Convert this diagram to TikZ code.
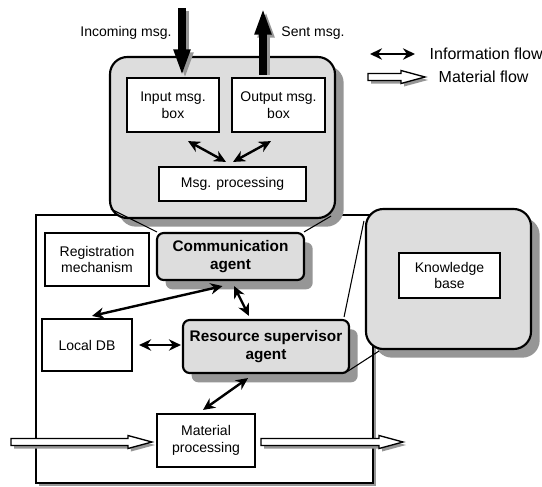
\documentclass[tikz,border=0pt]{standalone}
\usepackage{fontspec}
\setmainfont{Liberation Sans}
\usetikzlibrary{arrows.meta,shadows,calc}
\definecolor{boxgray}{RGB}{221,221,221}
\definecolor{shadowgray}{RGB}{150,150,150}
\tikzset{
	plainbox/.style={draw, line width=1.6pt, fill=white, align=center, inner sep=1pt,
			font=\fontsize{10.5}{12.5}\selectfont},
	agentbox/.style={draw, line width=1.6pt, fill=boxgray, rounded corners=5pt, align=center,
			inner sep=1pt, font=\fontsize{11.5}{13.5}\selectfont\bfseries,
			drop shadow={shadow xshift=6.5pt, shadow yshift=-7pt, fill=shadowgray, opacity=1}},
	groupbox/.style={draw, line width=1.6pt, fill=boxgray, rounded corners=13pt,
			drop shadow={shadow xshift=6.5pt, shadow yshift=-6.5pt, fill=shadowgray, opacity=1}},
	infoflow/.style={line width=1.8pt, {Stealth[length=9pt,width=8.5pt]}-{Stealth[length=9pt,width=8.5pt]}},
	msgflow/.style={line width=6pt, -{Triangle[length=20pt,width=11.5pt]}},
	callout/.style={line width=0.8pt},
	textlabel/.style={font=\fontsize{10.5}{12.5}\selectfont},
	legendtext/.style={font=\fontsize{12}{14}\selectfont, anchor=west}
}
% white material arrow with its shadow, from #1 to #2 (horizontal)
\newcommand{\matflow}[2]{%
	\fill[shadowgray] ($(#1)+(3,-0.5)$) -- ($(#2)+(-21,-0.5)$) -- ($(#2)+(-21,-3.5)$) -- ($(#2)+(3,3)$)
		-- ($(#2)+(-21,9.5)$) -- ($(#2)+(-21,6.5)$) -- ($(#1)+(3,6.5)$) -- cycle;
	\draw[fill=white, line width=1pt] ($(#1)+(0,-3.5)$) -- ($(#2)+(-24,-3.5)$) -- ($(#2)+(-24,-6.5)$) -- (#2)
		-- ($(#2)+(-24,6.5)$) -- ($(#2)+(-24,3.5)$) -- ($(#1)+(0,3.5)$) -- cycle;
}
\begin{document}
\begin{tikzpicture}[x=0.75pt, y=-0.75pt]
	\useasboundingbox (0,0) rectangle (542,486);

	% resource station
	\node[draw, line width=2pt, fill=white, minimum width=252.75pt, minimum height=201pt,
		drop shadow={shadow xshift=2.25pt, shadow yshift=-2.25pt, fill=shadowgray, opacity=1}]
		(station) at (204.5,349) {};

	\node[plainbox, minimum width=78pt, minimum height=39.75pt] (regmech) at (97,259.5) {Registration\\mechanism};
	\node[plainbox, minimum width=67.5pt, minimum height=39pt] (localdb) at (87,345) {Local DB};
	\node[plainbox, minimum width=73.5pt, minimum height=39.75pt] (matproc) at (206,440.5) {Material\\processing};

	\node[agentbox, minimum width=110.25pt, minimum height=35.25pt] (comm) at (230.5,256.5) {Communication\\agent};
	\node[agentbox, minimum width=124.5pt, minimum height=39.75pt] (rsa) at (266,346.5) {Resource supervisor\\agent};

	% message handling
	\node[groupbox, minimum width=168.75pt, minimum height=120.75pt] (msgbox) at (222.5,137.5) {};
	\node[plainbox, minimum width=69pt, minimum height=40.5pt] (inbox) at (173,105) {Input msg.\\box};
	\node[plainbox, minimum width=69.75pt, minimum height=40.5pt] (outbox) at (278.5,105) {Output msg.\\box};
	\node[plainbox, minimum width=110.25pt, minimum height=25.5pt] (msgproc) at (232.5,184) {Msg. processing};

	% knowledge
	\node[groupbox, minimum width=123.75pt, minimum height=105pt] (kbouter) at (448.5,279) {};
	\node[plainbox, minimum width=75.75pt, minimum height=33.75pt] (kb) at (449.5,275.5) {Knowledge\\base};

	% messages in and out
	\coordinate (incoming) at (182,8);
	\coordinate (sent) at (263,8);
	\draw[msgflow, shadowgray] ($(incoming)+(3,3)$) -- ($(inbox.north)+(12,2)$);
	\draw[msgflow] (incoming) -- ($(inbox.north)+(9,-1)$);
	\draw[msgflow, shadowgray] ($(outbox.north)+(-12.5,-2)$) -- ($(sent)+(3,3)$);
	\draw[msgflow] ($(outbox.north)+(-15.5,-2)$) -- (sent);
	\node[textlabel] (inlabel) at (126,33) {Incoming msg.};
	\node[textlabel] (sentlabel) at (313,33) {Sent msg.};

	% information flow
	\draw[infoflow] ($(inbox.south)+(15,8)$) -- ($(msgproc.north)+(-6.5,-4)$);
	\draw[infoflow] ($(outbox.south)+(-7.5,8)$) -- ($(msgproc.north)+(0.5,-4)$);
	\draw[infoflow] ($(comm.south)+(-8,5)$) -- ($(localdb.north)+(5,-2)$);
	\draw[infoflow] ($(comm.south)+(3.5,5)$) -- ($(rsa.north)+(-17,-3)$);
	\draw[infoflow] ($(localdb.east)+(6,0)$) -- ($(localdb.east -| rsa.west)+(-1,0)$);
	\draw[infoflow] ($(rsa.south)+(-18,4)$) -- ($(matproc.north)+(-3,-3)$);

	% zoom lines
	\draw[callout] ($(msgbox.south west)+(2,-10)$) -- ($(comm.north west)+(1,0)$);
	\draw[callout] ($(msgbox.south east)+(-5,-3)$) -- ($(comm.north east)+(-1,0)$);
	\draw[callout] ($(rsa.north east)+(-6,-2)$) -- ($(kbouter.north west)+(-1,13)$);
	\draw[callout] ($(rsa.south east)+(-2,-3)$) -- ($(kbouter.south west)+(14,1)$);

	% material flow
	\coordinate (matin) at (11,442);
	\coordinate (matout) at (403,442);
	\coordinate (matinend) at ($(matin -| matproc.west)+(-4,0)$);
	\coordinate (matoutstart) at ($(matout -| matproc.east)+(5,0)$);
	\matflow{matin}{matinend}
	\matflow{matoutstart}{matout}

	% legend
	\coordinate (infoa) at (370,54);
	\coordinate (infob) at (415,54);
	\draw[infoflow] (infoa) -- (infob);
	\node[legendtext] (infotext) at (425,54) {Information flow};
	\coordinate (mata) at (368,77);
	\coordinate (matb) at (425,77);
	\matflow{mata}{matb}
	\node[legendtext] (mattext) at (434,77) {Material flow};
\end{tikzpicture}
\end{document}
